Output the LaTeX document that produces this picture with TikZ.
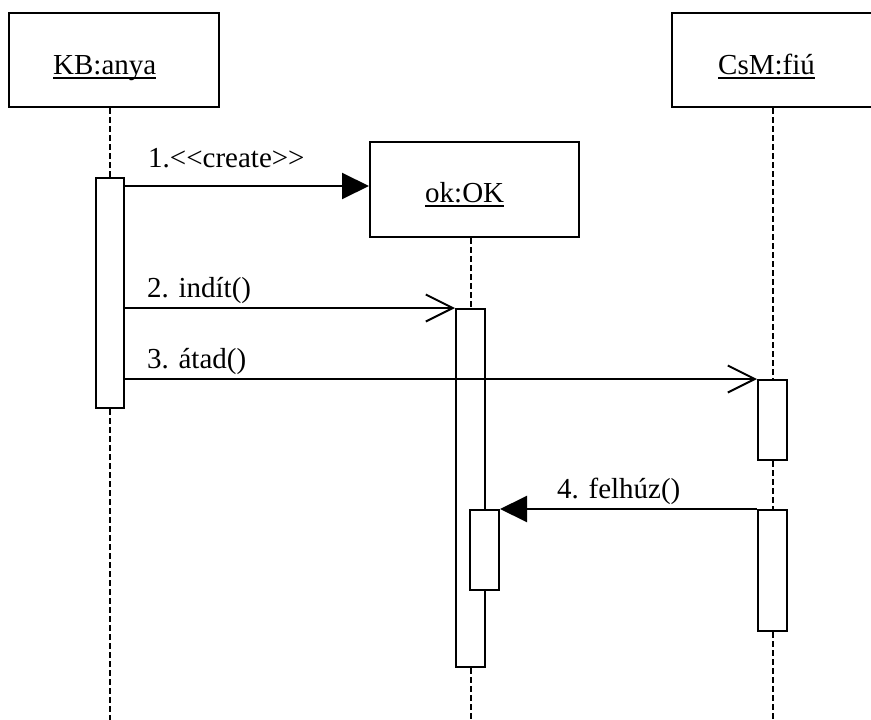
\documentclass[tikz,border=0pt]{standalone}
\usepackage{fontspec}
\setmainfont{Liberation Serif}
\usetikzlibrary{arrows.meta,calc}
\begin{document}
\begin{tikzpicture}[x=1pt,y=-1pt,
  every node/.style={font=\fontsize{29}{34}\selectfont},
  objbox/.style={draw,line width=2pt,rectangle,minimum width=210pt,minimum height=94pt,inner sep=0pt},
  act/.style={draw,line width=2pt,fill=white,rectangle,minimum width=29pt,inner sep=0pt},
  life/.style={line width=2pt,dash pattern=on 6pt off 3pt},
  txt/.style={inner sep=0pt,anchor=base west},
  uline/.style={line width=2pt},
  syncmsg/.style={line width=2pt,-{Triangle[length=27pt,width=26pt]}},
  asyncmsg/.style={line width=2pt,-{Straight Barb[length=27pt,width=27pt]}}]
\useasboundingbox (0,0) rectangle (871,720);
\coordinate (bottom) at (0,720);
% objects
\node[objbox] (kb) at (114,60) {};
\node[objbox,minimum width=209pt,minimum height=95pt] (ok) at (474.5,189.5) {};
\node[objbox] (csm) at (777,60) {};
% labels
\node[txt] (kbl) at (53,74) {KB:anya};
\draw[uline] ([yshift=-4pt]kbl.base west) -- ([yshift=-4pt]kbl.base east);
\node[txt] (okl) at (425,202) {ok:OK};
\draw[uline] ([yshift=-4pt]okl.base west) -- ([yshift=-4pt]okl.base east);
\node[txt] (csml) at (718,74) {CsM:fiú};
\draw[uline] ([yshift=-4pt]csml.base west) -- ([yshift=-4pt]csml.base east);
% activations
\node[act,minimum width=28pt,minimum height=230pt] (kbact) at (110,293) {};
\node[act,minimum height=358pt] (okact) at (470.5,488) {};
\node[act,minimum height=80pt] (nest) at (484.5,550) {};
\node[act,minimum height=80pt] (cact1) at (772.5,420) {};
\node[act,minimum height=121pt] (cact2) at (772.5,570.5) {};
% lifelines
\draw[life] (kbact.north |- kb.south) -- (kbact.north);
\draw[life] (kbact.south) -- (kbact.south |- bottom);
\draw[life] (okact.north |- ok.south) -- (okact.north);
\draw[life] (okact.south) -- (okact.south |- bottom);
\draw[life] (cact1.north |- csm.south) -- (cact1.north);
\draw[life] (cact1.south) -- (cact2.north);
\draw[life] (cact2.south) -- (cact2.south |- bottom);
% messages
\coordinate (m1) at (ok.west |- 0,186);
\draw[syncmsg] (kbact.east |- m1) -- (m1);
\node[txt] (l1) at (148,167) {1.<\kern0pt<create>\kern0pt>};
\draw[asyncmsg] (kbact.east |- okact.north) -- (okact.north west);
\node[txt] (l2) at (147,297) {2. indít()};
\draw[asyncmsg] (kbact.east |- cact1.north) -- (cact1.north west);
\node[txt] (l3) at (147,368) {3. átad()};
\draw[syncmsg] (cact2.north west) -- (nest.north east);
\node[txt] (l4) at (557,498) {4. felhúz()};
\end{tikzpicture}
\end{document}
